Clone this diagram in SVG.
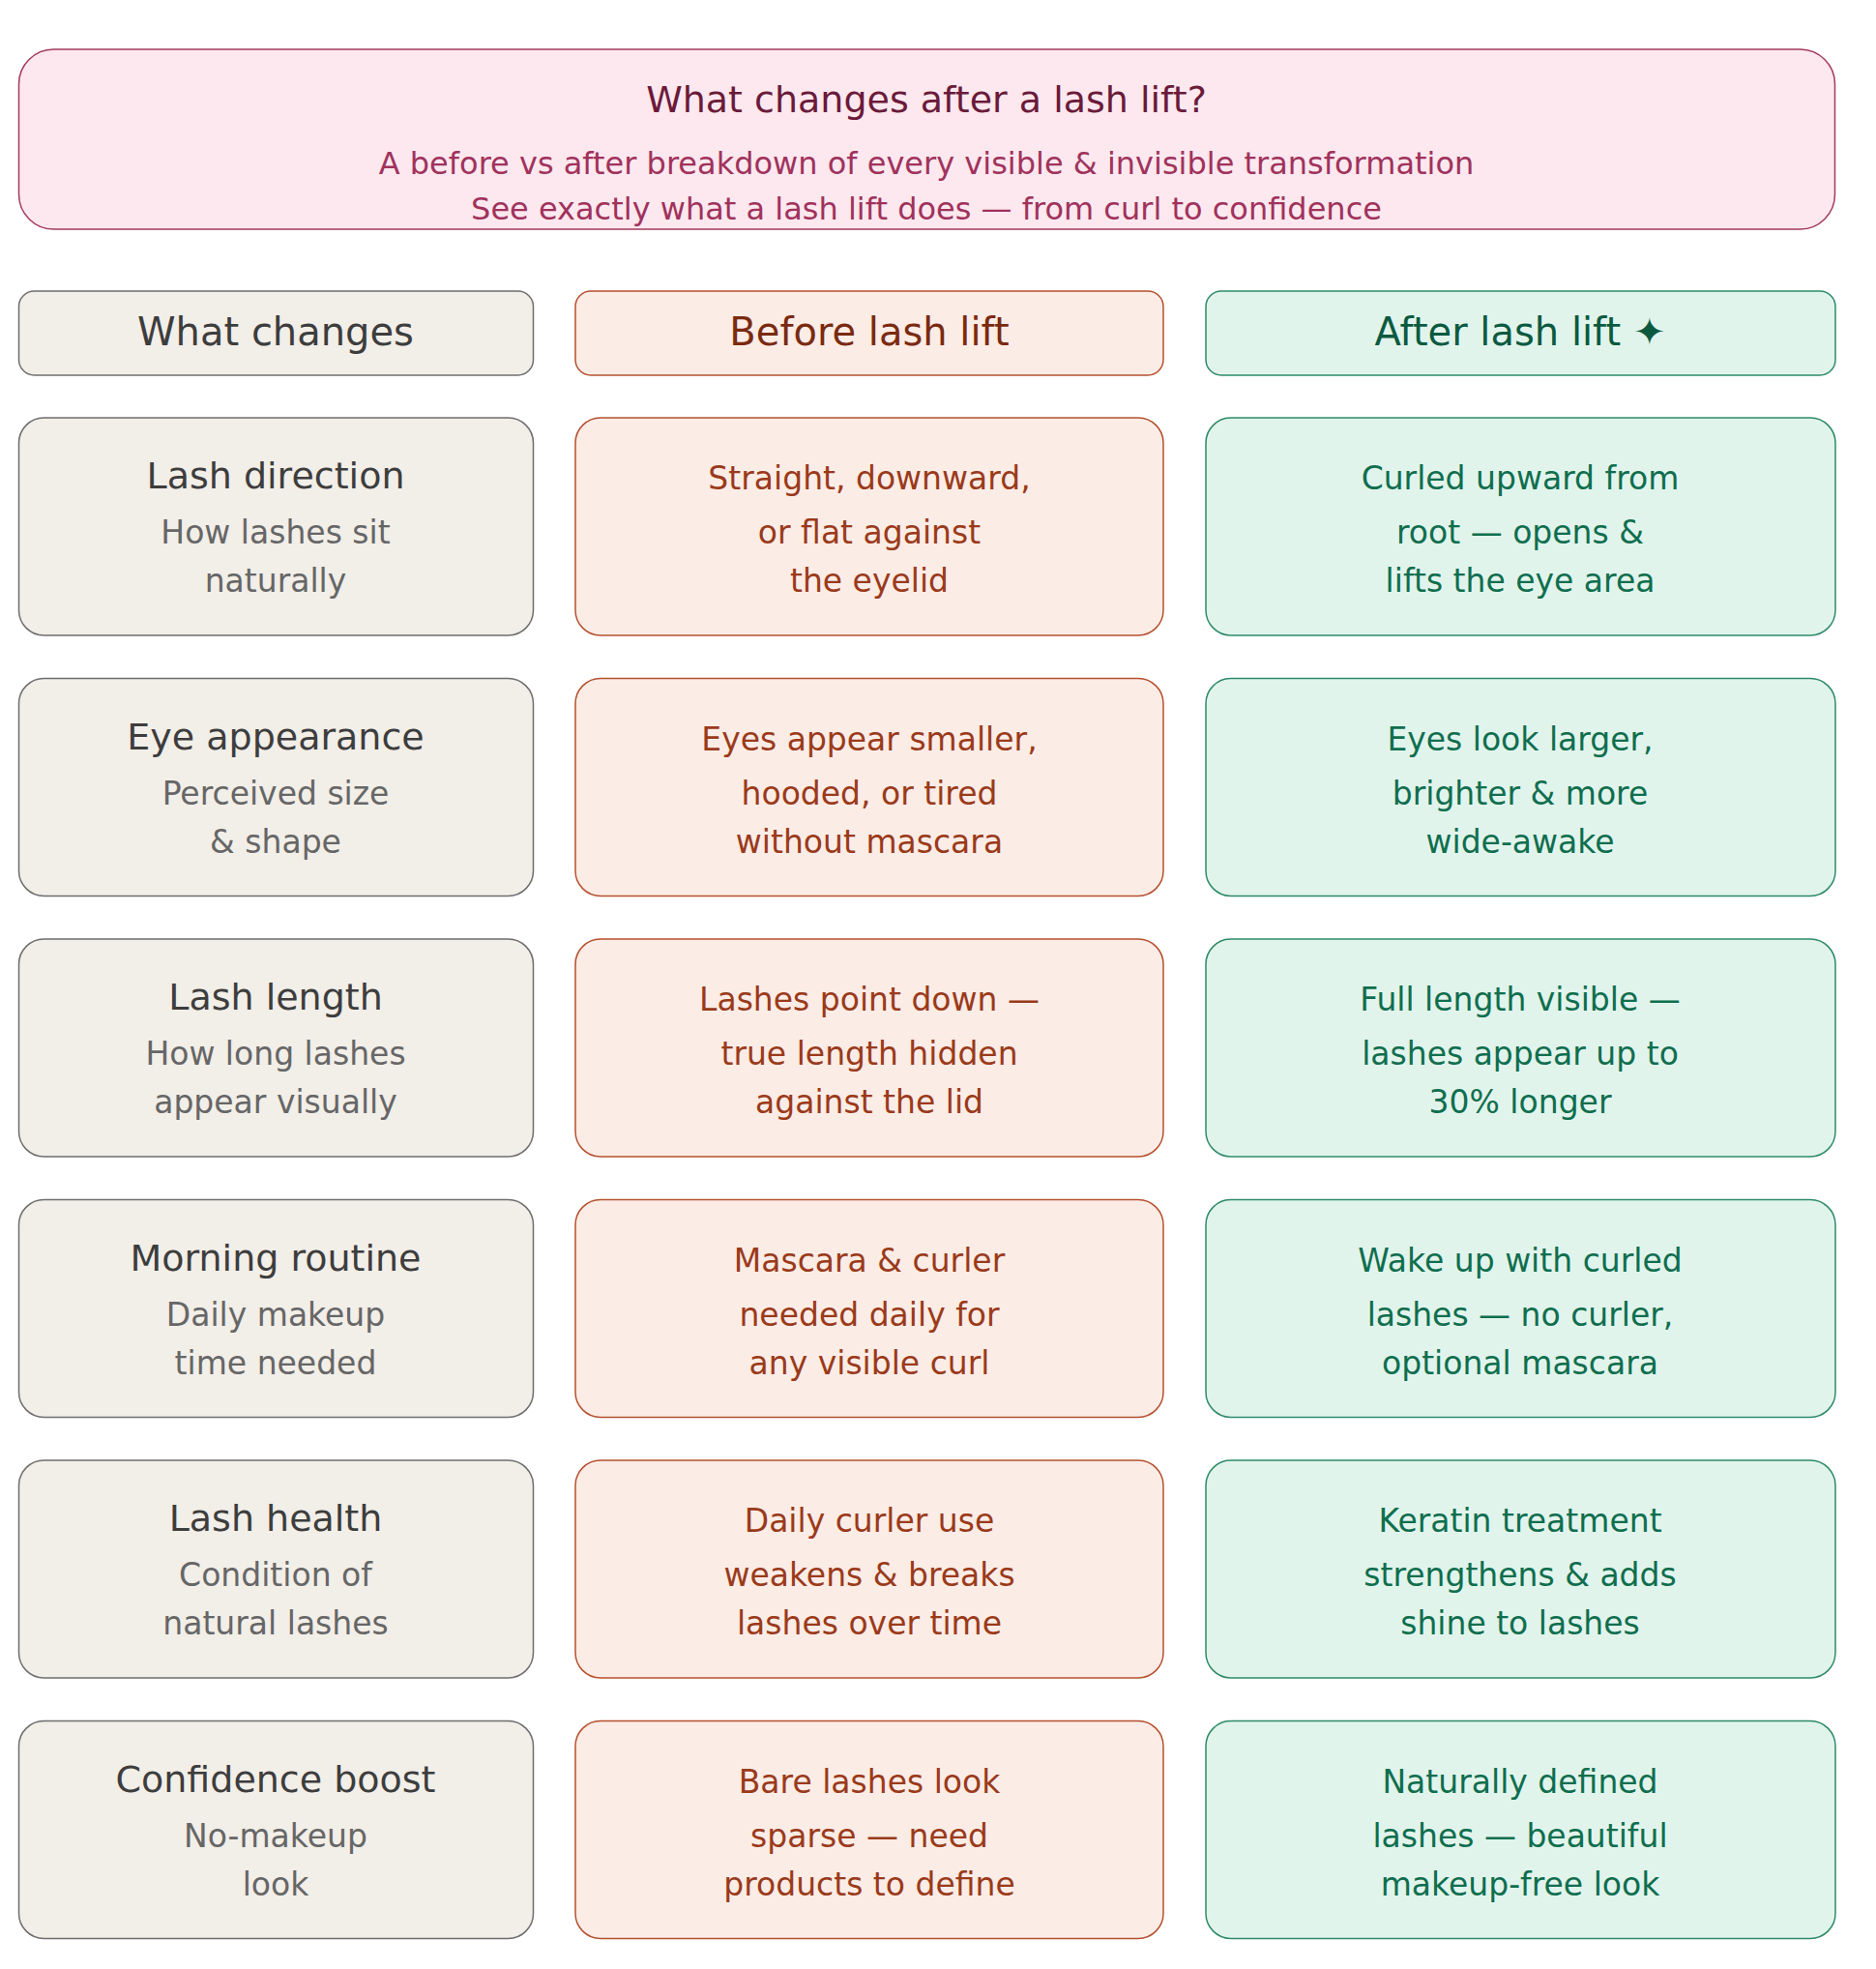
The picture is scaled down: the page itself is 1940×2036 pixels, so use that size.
<svg xmlns="http://www.w3.org/2000/svg" width="1940" height="2036" viewBox="0 0 1940 2036">
<style>
text{font-family:"DejaVu Sans","Liberation Sans",sans-serif;text-anchor:middle}
.c1{fill:#f2eee8;stroke:#6e6e6e;stroke-width:1.5}
.c2{fill:#fbece6;stroke:#b5502e;stroke-width:1.5}
.c3{fill:#e1f4ec;stroke:#2e8a68;stroke-width:1.5}
.h{font-size:40px}
.t{font-size:38px;fill:#3d3d3d}
.s{font-size:33px;fill:#666}
.b{font-size:33px;fill:#9a3a1a}
.a{font-size:33px;fill:#0f6e4e}
</style>
<rect width="1940" height="2036" fill="#fff"/>
<g id="title">
<rect x="19.5" y="51" width="1878" height="186" rx="36" fill="#fce8ee" stroke="#a33a5f" stroke-width="1.5"/>
<text x="958" y="116" font-size="38" fill="#6b1a3a">What changes after a lash lift?</text>
<text x="958" y="180" font-size="32" fill="#a0325c">A before vs after breakdown of every visible &amp; invisible transformation</text>
<text x="958" y="227" font-size="32" fill="#a0325c">See exactly what a lash lift does — from curl to confidence</text>
</g>
<g id="header-what"><rect class="c1" x="19.5" y="301" width="532" height="87" rx="16"/><text class="h" x="285" y="357" fill="#3d3d3d">What changes</text></g>
<g id="header-before"><rect class="c2" x="595" y="301" width="608" height="87" rx="16"/><text class="h" x="899" y="357" fill="#7a2a10">Before lash lift</text></g>
<g id="header-after"><rect class="c3" x="1247" y="301" width="651" height="87" rx="16"/><text class="h" x="1572" y="357" fill="#0b5a40">After lash lift ✦</text></g>
<g id="rows">
<g id="r1">
<g id="r1-what"><rect class="c1" x="19.5" y="432" width="532" height="225" rx="26"/><text class="t" x="285" y="505">Lash direction</text><text class="s" x="285" y="562">How lashes sit</text><text class="s" x="285" y="612">naturally</text></g>
<g id="r1-before"><rect class="c2" x="595" y="432" width="608" height="225" rx="26"/><text class="b" x="899" y="506">Straight, downward,</text><text class="b" x="899" y="562">or flat against</text><text class="b" x="899" y="612">the eyelid</text></g>
<g id="r1-after"><rect class="c3" x="1247" y="432" width="651" height="225" rx="26"/><text class="a" x="1572" y="506">Curled upward from</text><text class="a" x="1572" y="562">root — opens &amp;</text><text class="a" x="1572" y="612">lifts the eye area</text></g>
</g>
<g id="r2" transform="translate(0,269.5)">
<g id="r2-what"><rect class="c1" x="19.5" y="432" width="532" height="225" rx="26"/><text class="t" x="285" y="505">Eye appearance</text><text class="s" x="285" y="562">Perceived size</text><text class="s" x="285" y="612">&amp; shape</text></g>
<g id="r2-before"><rect class="c2" x="595" y="432" width="608" height="225" rx="26"/><text class="b" x="899" y="506">Eyes appear smaller,</text><text class="b" x="899" y="562">hooded, or tired</text><text class="b" x="899" y="612">without mascara</text></g>
<g id="r2-after"><rect class="c3" x="1247" y="432" width="651" height="225" rx="26"/><text class="a" x="1572" y="506">Eyes look larger,</text><text class="a" x="1572" y="562">brighter &amp; more</text><text class="a" x="1572" y="612">wide-awake</text></g>
</g>
<g id="r3" transform="translate(0,539)">
<g id="r3-what"><rect class="c1" x="19.5" y="432" width="532" height="225" rx="26"/><text class="t" x="285" y="505">Lash length</text><text class="s" x="285" y="562">How long lashes</text><text class="s" x="285" y="612">appear visually</text></g>
<g id="r3-before"><rect class="c2" x="595" y="432" width="608" height="225" rx="26"/><text class="b" x="899" y="506">Lashes point down —</text><text class="b" x="899" y="562">true length hidden</text><text class="b" x="899" y="612">against the lid</text></g>
<g id="r3-after"><rect class="c3" x="1247" y="432" width="651" height="225" rx="26"/><text class="a" x="1572" y="506">Full length visible —</text><text class="a" x="1572" y="562">lashes appear up to</text><text class="a" x="1572" y="612">30% longer</text></g>
</g>
<g id="r4" transform="translate(0,808.5)">
<g id="r4-what"><rect class="c1" x="19.5" y="432" width="532" height="225" rx="26"/><text class="t" x="285" y="505">Morning routine</text><text class="s" x="285" y="562">Daily makeup</text><text class="s" x="285" y="612">time needed</text></g>
<g id="r4-before"><rect class="c2" x="595" y="432" width="608" height="225" rx="26"/><text class="b" x="899" y="506">Mascara &amp; curler</text><text class="b" x="899" y="562">needed daily for</text><text class="b" x="899" y="612">any visible curl</text></g>
<g id="r4-after"><rect class="c3" x="1247" y="432" width="651" height="225" rx="26"/><text class="a" x="1572" y="506">Wake up with curled</text><text class="a" x="1572" y="562">lashes — no curler,</text><text class="a" x="1572" y="612">optional mascara</text></g>
</g>
<g id="r5" transform="translate(0,1078)">
<g id="r5-what"><rect class="c1" x="19.5" y="432" width="532" height="225" rx="26"/><text class="t" x="285" y="505">Lash health</text><text class="s" x="285" y="562">Condition of</text><text class="s" x="285" y="612">natural lashes</text></g>
<g id="r5-before"><rect class="c2" x="595" y="432" width="608" height="225" rx="26"/><text class="b" x="899" y="506">Daily curler use</text><text class="b" x="899" y="562">weakens &amp; breaks</text><text class="b" x="899" y="612">lashes over time</text></g>
<g id="r5-after"><rect class="c3" x="1247" y="432" width="651" height="225" rx="26"/><text class="a" x="1572" y="506">Keratin treatment</text><text class="a" x="1572" y="562">strengthens &amp; adds</text><text class="a" x="1572" y="612">shine to lashes</text></g>
</g>
<g id="r6" transform="translate(0,1347.5)">
<g id="r6-what"><rect class="c1" x="19.5" y="432" width="532" height="225" rx="26"/><text class="t" x="285" y="505">Confidence boost</text><text class="s" x="285" y="562">No-makeup</text><text class="s" x="285" y="612">look</text></g>
<g id="r6-before"><rect class="c2" x="595" y="432" width="608" height="225" rx="26"/><text class="b" x="899" y="506">Bare lashes look</text><text class="b" x="899" y="562">sparse — need</text><text class="b" x="899" y="612">products to define</text></g>
<g id="r6-after"><rect class="c3" x="1247" y="432" width="651" height="225" rx="26"/><text class="a" x="1572" y="506">Naturally defined</text><text class="a" x="1572" y="562">lashes — beautiful</text><text class="a" x="1572" y="612">makeup-free look</text></g>
</g>
</g>
<g id="connectors"/>
</svg>
